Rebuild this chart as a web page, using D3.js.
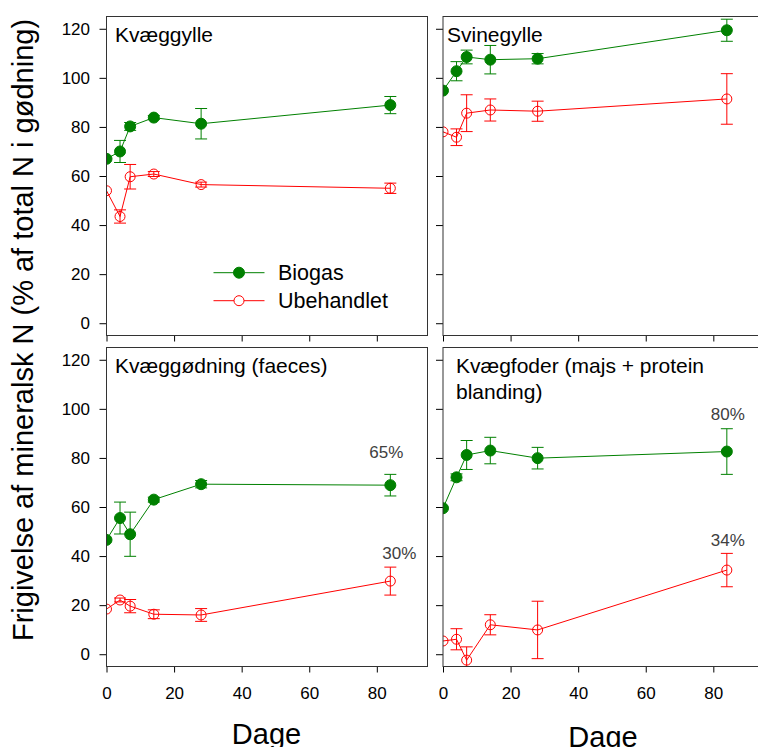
<!DOCTYPE html>
<html>
<head>
<meta charset="utf-8">
<script src="https://cdn.jsdelivr.net/npm/d3@7"></script>
<style>
  html, body { margin: 0; padding: 0; background: #fff; }
  svg { display: block; font-family: "Liberation Sans", Arial, sans-serif; }
</style>
</head>
<body>
<svg id="chart" width="758" height="747"></svg>
<script>
// Sampling days
const days = [0, 4, 7, 14, 28, 84];
const xTicks = [0, 20, 40, 60, 80];
const yTicks = [0, 20, 40, 60, 80, 100, 120];
const seriesNames = ["Biogas", "Ubehandlet"];

// Kvæggylle
const kvaeggylleBiogas = [67.0, 70.0, 80.2, 83.8, 81.3, 88.9];
const kvaeggylleBiogasErr = [0, 4.5, 1.6, 0.8, 6.2, 3.5];
const kvaeggylleUbeh = [54.0, 43.5, 59.7, 60.8, 56.5, 55.0];
const kvaeggylleUbehErr = [0, 2.7, 5.0, 1.0, 1.0, 2.1];

// Svinegylle
const svinegylleBiogas = [94.8, 102.7, 108.5, 107.4, 107.8, 119.4];
const svinegylleBiogasErr = [0, 3.9, 2.8, 5.8, 2.1, 4.5];
const svinegylleUbeh = [78.0, 75.8, 85.6, 86.9, 86.4, 91.4];
const svinegylleUbehErr = [0, 3.4, 7.5, 4.5, 4.1, 10.3];

// Kvæggødning (faeces)
const faecesBiogas = [46.6, 55.5, 48.9, 63.0, 69.3, 68.9];
const faecesBiogasErr = [0, 6.5, 9.0, 1.0, 1.5, 4.4];
const faecesUbeh = [18.4, 22.1, 19.6, 16.3, 16.0, 29.8];
const faecesUbehErr = [0, 0.8, 2.7, 1.8, 2.6, 5.7];

// Kvægfoder (majs + protein blanding)
const foderBiogas = [59.5, 72.1, 81.2, 83.0, 79.9, 82.6];
const foderBiogasErr = [0, 1.4, 5.9, 5.4, 4.4, 9.3];
const foderUbeh = [5.4, 6.1, -2.4, 12.0, 9.9, 34.3];
const foderUbehErr = [0, 4.3, 5.4, 4.1, 11.7, 6.8];

const panelTitles = [
  ["Kvæggylle"],
  ["Svinegylle"],
  ["Kvæggødning (faeces)"],
  ["Kvægfoder (majs + protein", "blanding)"]
];
const panelAnnotations = [[], [], ["65%", "30%"], ["80%", "34%"]];

const yTitle = "Frigivelse af mineralsk N (% af total N i gødning)";
const xTitle = "Dage";

// Layout
const W = 321, H = 319;
const colX = [106.5, 443];
const rowY = [16.5, 347.5];
const green = "#008000", red = "#ff0000";

const panelData = [
  { b: kvaeggylleBiogas, be: kvaeggylleBiogasErr, u: kvaeggylleUbeh, ue: kvaeggylleUbehErr },
  { b: svinegylleBiogas, be: svinegylleBiogasErr, u: svinegylleUbeh, ue: svinegylleUbehErr },
  { b: faecesBiogas, be: faecesBiogasErr, u: faecesUbeh, ue: faecesUbehErr },
  { b: foderBiogas, be: foderBiogasErr, u: foderUbeh, ue: foderUbehErr }
];

// annotation offsets: placed above the upper error bar at the last day
const annotOffsets = [[], [], [{dx: -4, dy: -16}, {dx: 9, dy: -8}], [{dx: 1, dy: -9}, {dx: 1, dy: -7}]];

const svg = d3.select("#chart");
const x = d3.scaleLinear().domain([0, 95]).range([0, W]);
const y = d3.scaleLinear().domain([-5, 125]).range([H, 0]);

panelData.forEach((pd, i) => {
  const col = i % 2, row = Math.floor(i / 2);
  const g = svg.append("g").attr("transform", `translate(${colX[col]},${rowY[row]})`);

  // Y axis
  const ya = g.append("g")
    .call(d3.axisLeft(y).tickValues(yTicks).tickSize(7).tickPadding(9.5)
      .tickFormat(col === 0 ? d3.format("d") : () => ""));
  ya.select(".domain").remove();
  ya.selectAll("line").attr("stroke", "#000");
  ya.selectAll("text").attr("font-size", 17).attr("fill", "#000")
    .attr("font-family", "Liberation Sans, Arial, sans-serif");

  // X axis
  const xa = g.append("g").attr("transform", `translate(0,${H})`)
    .call(d3.axisBottom(x).tickValues(xTicks).tickSize(6).tickPadding(14)
      .tickFormat(row === 1 ? d3.format("d") : () => ""));
  xa.select(".domain").remove();
  xa.selectAll("line").attr("stroke", "#000");
  xa.selectAll("text").attr("font-size", 17).attr("fill", "#000")
    .attr("font-family", "Liberation Sans, Arial, sans-serif");

  // Plot area clip
  const clipId = "clip" + i;
  g.append("clipPath").attr("id", clipId)
    .append("rect").attr("width", W).attr("height", H);
  const plot = g.append("g").attr("clip-path", `url(#${clipId})`);

  const series = [
    { vals: pd.b, errs: pd.be, color: green, filled: true },
    { vals: pd.u, errs: pd.ue, color: red, filled: false }
  ];

  series.forEach(s => {
    const pts = days.map((d, k) => ({ d, v: s.vals[k], e: s.errs[k] }));
    const line = d3.line().x(p => x(p.d)).y(p => y(p.v));
    plot.append("path").datum(pts)
      .attr("d", line).attr("fill", "none")
      .attr("stroke", s.color).attr("stroke-width", 1);

    const eb = plot.append("g").attr("stroke", s.color).attr("stroke-width", 1);
    pts.filter(p => p.e > 0).forEach(p => {
      const cx = x(p.d), y1 = y(p.v + p.e), y2 = y(p.v - p.e);
      eb.append("line").attr("x1", cx).attr("x2", cx).attr("y1", y1).attr("y2", y2);
      eb.append("line").attr("x1", cx - 6).attr("x2", cx + 6).attr("y1", y1).attr("y2", y1);
      eb.append("line").attr("x1", cx - 6).attr("x2", cx + 6).attr("y1", y2).attr("y2", y2);
    });

    plot.append("g").selectAll("circle").data(pts).join("circle")
      .attr("cx", p => x(p.d)).attr("cy", p => y(p.v))
      .attr("r", s.filled ? 5.5 : 5)
      .attr("fill", s.filled ? s.color : "none")
      .attr("stroke", s.color).attr("stroke-width", 1);
  });

  // Frame
  g.append("rect").attr("width", W).attr("height", H)
    .attr("fill", "none").attr("stroke", "#333").attr("stroke-width", 1);

  // Title
  const t = g.append("text").attr("x", col === 0 ? 8.5 : 4).attr("y", row === 0 ? 25.5 : 25)
    .attr("font-size", 21).attr("fill", "#000");
  panelTitles[i].forEach((ln, k) => {
    t.append("tspan").attr("x", col === 0 ? 8.5 : (row === 0 ? 4 : 13)).attr("dy", k === 0 ? 0 : 26.5).text(ln);
  });

  // Annotations at the last day
  panelAnnotations[i].forEach((txt, k) => {
    const s = series[k];
    const last = days.length - 1;
    const off = annotOffsets[i][k];
    g.append("text")
      .attr("x", x(days[last]) + off.dx)
      .attr("y", y(s.vals[last] + s.errs[last]) + off.dy)
      .attr("text-anchor", "middle").attr("font-size", 17).attr("fill", "#404040")
      .text(txt);
  });

  // Legend in first panel
  if (i === 0) {
    const lg = g.append("g").attr("transform", `translate(${213.5 - colX[0]},${272.7 - rowY[0]})`);
    seriesNames.forEach((name, k) => {
      const s = series[k];
      const row = lg.append("g").attr("transform", `translate(0,${k * 28})`);
      row.append("line").attr("x1", 0).attr("x2", 51).attr("stroke", s.color).attr("stroke-width", 1);
      row.append("circle").attr("cx", 25.5).attr("r", s.filled ? 5.5 : 5)
        .attr("fill", s.filled ? s.color : "#fff").attr("stroke", s.color);
      row.append("text").attr("x", 64.5).attr("dy", "0.35em")
        .attr("font-size", 21.5).attr("fill", "#000").text(name);
    });
  }
});

// Y axis title
svg.append("text")
  .attr("transform", "translate(33,330) rotate(-90)")
  .attr("text-anchor", "middle").attr("font-size", 29).attr("fill", "#000")
  .text(yTitle);

// X axis titles
colX.forEach((cx, c) => {
  svg.append("text")
    .attr("x", cx + W / 2 - 0.5).attr("y", c === 0 ? 744 : 746.5)
    .attr("text-anchor", "middle").attr("font-size", 29).attr("fill", "#000")
    .text(xTitle);
});
</script>
</body>
</html>
